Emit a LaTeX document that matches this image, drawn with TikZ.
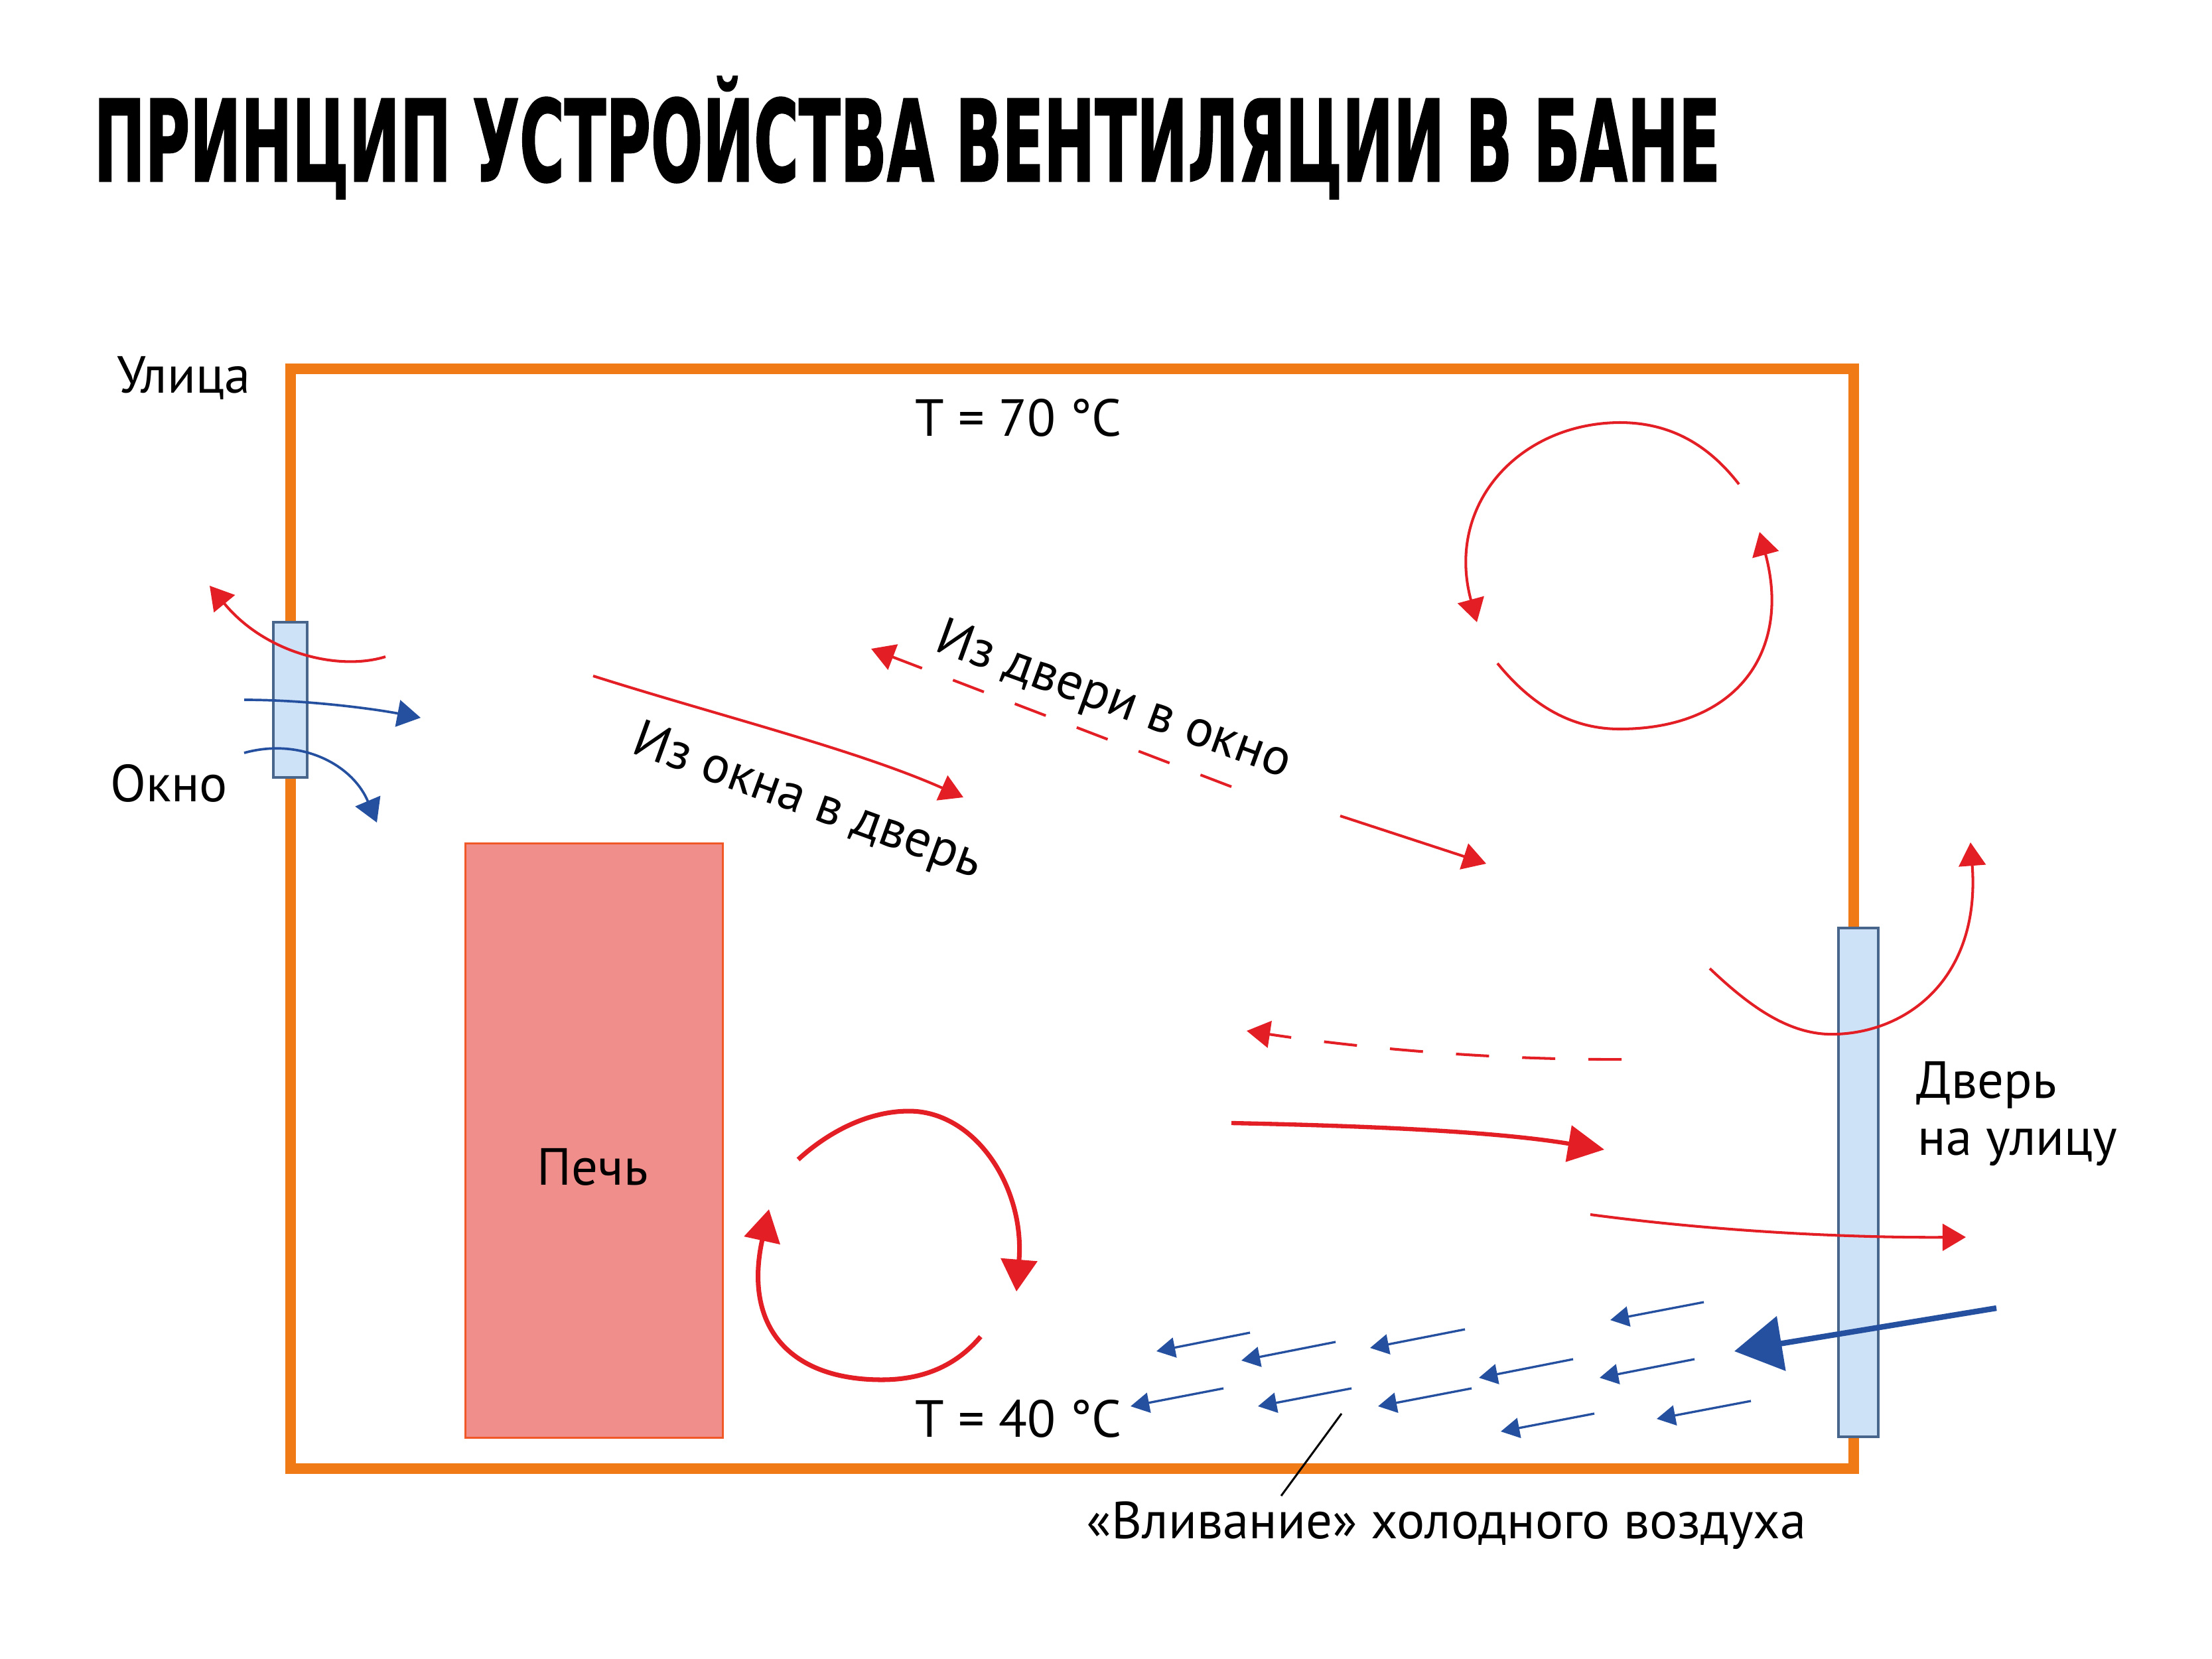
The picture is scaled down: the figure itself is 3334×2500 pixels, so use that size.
\documentclass[tikz,border=0pt]{standalone}
\usepackage{fontspec}
\usepackage{graphicx}
\setmainfont{PT Sans}
\newfontfamily\titlefont{DejaVu Sans}[FakeBold=1.6]
\usetikzlibrary{arrows.meta}
\definecolor{framec}{RGB}{239,122,22}
\definecolor{redc}{RGB}{228,30,37}
\definecolor{bluec}{RGB}{37,80,160}
\definecolor{glassfill}{RGB}{205,226,246}
\definecolor{glassdraw}{RGB}{72,102,140}
\definecolor{stovefill}{RGB}{240,142,139}
\definecolor{stovedraw}{RGB}{240,88,40}
\tikzset{
  lbl/.style={inner sep=0pt, font=\fontsize{22.4pt}{26pt}\selectfont},
  wall/.style={draw=framec, line width=4.6pt},
  glass/.style={fill=glassfill, draw=glassdraw, line width=0.9pt},
  stovebox/.style={fill=stovefill, draw=stovedraw, line width=0.9pt},
  thinred/.style={draw=redc, line width=1.15pt, -{Triangle[length=10pt,width=11.5pt]}},
  dashred/.style={thinred, dash pattern=on 14.2pt off 14.2pt},
  midred/.style={draw=redc, line width=1.8pt, -{Triangle[length=15.5pt,width=15.5pt]}},
  thickred/.style={draw=redc, line width=2pt, -{Triangle[length=13.7pt,width=15.4pt]}},
  thinblue/.style={draw=bluec, line width=1.05pt, -{Triangle[length=10pt,width=11.5pt]}},
  smallblue/.style={draw=bluec, line width=0.95pt, -{Triangle[length=8pt,width=8.6pt]}},
  bigblue/.style={draw=bluec, line width=2.4pt, -{Triangle[length=20.4pt,width=23.3pt]}},
  pointer/.style={draw=black, line width=0.85pt}
}
\begin{document}
\begin{tikzpicture}[x=0.01cm,y=-0.01cm]
\useasboundingbox[fill=white] (0,0) rectangle (3334,2500);

% title
\node[inner sep=0pt, anchor=base west] (title) at (141,273)
  {\resizebox{697pt}{\height}{\titlefont\bfseries\fontsize{48.4pt}{50pt}\selectfont ПРИНЦИП УСТРОЙСТВА ВЕНТИЛЯЦИИ В БАНЕ}};

% room
\draw[wall] (438,556) rectangle (2794,2214);

% window and door
\draw[glass] (412,938) rectangle (463,1172);
\draw[glass] (2771,1399) rectangle (2831,2166);

% stove
\node[stovebox, minimum width=3.88cm, minimum height=8.95cm, anchor=north west, inner sep=0pt] (stove) at (700,1270) {};
\node[lbl, anchor=base] (stovelbl) at (893,1786) {Печь};

% labels
\node[lbl, anchor=base] (street) at (277,592) {Улица};
\node[lbl, anchor=base] (win) at (255,1208) {Окно};
\node[lbl, anchor=base] (t70) at (1535,657) {T = 70 °C};
\node[lbl, anchor=base] (t40) at (1535,2166) {T = 40 °C};
\node[lbl, anchor=base west] (door1) at (2888,1655) {Дверь};
\node[lbl, anchor=base west] (door2) at (2890,1741) {на улицу};
\node[lbl, anchor=base] (cold) at (2180,2319) {«Вливание» холодного воздуха};
\node[lbl, anchor=base west, rotate=-20] (w2d) at (949,1134) {Из окна в дверь};
\node[lbl, anchor=base west, rotate=-20] (d2w) at (1406,980) {Из двери в окно};

% window flows
\draw[thinred] (581,990) .. controls (510,1012) and (400,985) .. (316,883);
\draw[thinblue] (368,1055) .. controls (460,1055) and (560,1068) .. (634,1082);
\draw[thinblue] (368,1135) .. controls (450,1112) and (530,1150) .. (568,1240);

% diagonal flows
\draw[thinred] (894,1019) .. controls (1080,1078) and (1290,1130) .. (1452,1202);
\draw[dashred] (1856,1186) -- (1313,978);
\draw[thinred] (2020,1230) -- (2240,1302);

% top-right circulation
\draw[thinred] (2621,730) .. controls (2570,664) and (2510,637) .. (2441,637)
  .. controls (2290,638) and (2178,760) .. (2226,938);
\draw[thinred] (2257,1000) .. controls (2310,1065) and (2370,1099) .. (2441,1099)
  .. controls (2620,1099) and (2700,980) .. (2652,802);

% door flows
\draw[thinred] (2577,1460) .. controls (2640,1520) and (2700,1562) .. (2768,1559)
  .. controls (2880,1555) and (2985,1470) .. (2970,1270);
\draw[dashred] (2444,1597) .. controls (2250,1598) and (2050,1580) .. (1879,1554);
\draw[midred] (1856,1693) .. controls (2050,1697) and (2250,1705) .. (2418,1733);
\draw[thinred] (2397,1831) .. controls (2600,1858) and (2800,1866) .. (2963,1865);

% stove circulation
\draw[thickred] (1203,1748) .. controls (1250,1705) and (1310,1675) .. (1370,1675)
  .. controls (1470,1675) and (1545,1790) .. (1532,1947);
\draw[thickred] (1478,2015) .. controls (1440,2060) and (1390,2080) .. (1329,2080)
  .. controls (1190,2080) and (1120,2000) .. (1159,1823);

% cold air
\draw[bigblue] (3009,1972) -- (2614,2037);
\foreach \xa/\ya/\xb/\yb in {1884/2009/1743/2037, 2013/2023/1871/2051, 2208/2004/2065/2032,
  2568/1963/2427/1990, 2371/2049/2229/2077, 2554/2049/2411/2077, 1844/2093/1704/2120,
  2037/2093/1896/2120, 2218/2093/2077/2120, 2403/2131/2262/2158, 2639/2112/2497/2139}
  \draw[smallblue] (\xa,\ya) -- (\xb,\yb);

% pointer
\coordinate (ptrA) at (2022,2131);
\coordinate (ptrB) at (1931,2255);
\draw[pointer] (ptrA) -- (ptrB);
\end{tikzpicture}
\end{document}
